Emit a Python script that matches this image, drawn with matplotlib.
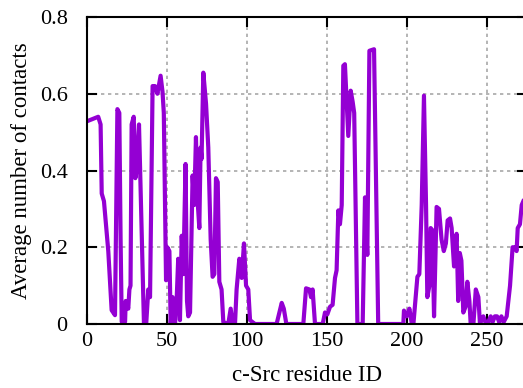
import matplotlib
matplotlib.use("Agg")
import matplotlib.pyplot as plt
from matplotlib.ticker import FuncFormatter

plt.rcParams['font.family'] = ['Liberation Serif', 'DejaVu Serif']

# residue ID and average number of contacts
residue = [1, 7, 8.5, 9.2, 10.6, 13.3, 15.4, 17.5, 19, 20.2,
           21, 21.7, 23.8, 24.2, 25.8, 26.5, 27.2, 27.9, 29.2, 30.2,
           31, 32.5, 33.5, 35.6, 37, 38.3, 39.4, 41, 42.5, 44,
           46, 47.2, 48, 49.4, 50.2, 51.5, 52.3, 53.5, 55, 56,
           57, 58.1, 59.2, 60.2, 61.6, 62.5, 63.3, 64.4, 66, 67,
           68.1, 69, 70.2, 71, 71.6, 72.7, 74.4, 75.8, 77.3, 78.5,
           79.6, 80.6, 81.7, 82.7, 84.1, 85.2, 88.3, 89.8, 91, 92.5,
           93.5, 95.2, 96.7, 98.1, 99.4, 100.8, 101.9, 105, 118.5, 121.7,
           123, 124.6, 135.2, 136.9, 139, 140, 141, 142.5, 147.3, 148.75,
           150.2, 151.9, 153.5, 155, 156, 157.1, 158.1, 159.2, 160.2, 161.2,
           163.3, 164.8, 166, 167, 169, 172.3, 173.75, 175.2, 176.5, 179.4,
           182, 197.7, 198.1, 199.8, 201.5, 203, 204, 206.5, 207.7, 209.2,
           210.6, 211.9, 212.7, 214, 214.8, 215.8, 216.9, 218.5, 220, 221.6,
           223, 224.3, 225.4, 226.9, 227.9, 229.4, 231, 232, 233, 234,
           235.2, 236.6, 237.7, 239, 239.8, 241.5, 243, 244.6, 245.6, 247.7,
           249.4, 250.8, 252.3, 253.5, 254.9, 256.3, 257.6, 259, 260.4, 262.3,
           264.4, 266, 267.5, 268.5, 269.2, 270.6, 271.7, 272.7]
contacts = [0.53, 0.54, 0.52, 0.34, 0.32, 0.19, 0.036, 0.023, 0.56, 0.55,
            0.22, 0.006, 0.006, 0.06, 0.04, 0.09, 0.10, 0.52, 0.54, 0.38,
            0.40, 0.52, 0.35, 0.0, 0.0, 0.09, 0.07, 0.62, 0.62, 0.60,
            0.647, 0.605, 0.55, 0.114, 0.20, 0.19, 0.0, 0.07, 0.0, 0.06,
            0.17, 0.01, 0.23, 0.13, 0.417, 0.06, 0.02, 0.03, 0.387, 0.31,
            0.487, 0.33, 0.25, 0.46, 0.43, 0.655, 0.574, 0.46, 0.22, 0.123,
            0.13, 0.38, 0.37, 0.11, 0.09, 0.005, 0.0, 0.04, 0.0, 0.0,
            0.09, 0.17, 0.12, 0.21, 0.10, 0.09, 0.01, 0.0, 0.0, 0.055,
            0.04, 0.0, 0.0, 0.093, 0.09, 0.07, 0.09, 0.0, 0.0, 0.03,
            0.025, 0.045, 0.05, 0.12, 0.14, 0.296, 0.26, 0.31, 0.673, 0.677,
            0.49, 0.608, 0.58, 0.55, 0.0, 0.0, 0.33, 0.18, 0.712, 0.716,
            0.0, 0.0, 0.035, 0.02, 0.04, 0.0, 0.0, 0.123, 0.13, 0.31,
            0.595, 0.31, 0.07, 0.10, 0.25, 0.245, 0.02, 0.305, 0.30, 0.22,
            0.19, 0.21, 0.27, 0.275, 0.25, 0.15, 0.235, 0.06, 0.185, 0.165,
            0.03, 0.045, 0.11, 0.06, 0.0, 0.0, 0.09, 0.07, 0.0, 0.02,
            0.0, 0.005, 0.02, 0.005, 0.02, 0.02, 0.005, 0.02, 0.005, 0.02,
            0.10, 0.20, 0.20, 0.19, 0.25, 0.26, 0.31, 0.32]

xticks = [0, 50, 100, 150, 200, 250]
yticks = [0, 0.2, 0.4, 0.6, 0.8]

fig = plt.figure(figsize=(5.23, 3.88), dpi=100)
ax = fig.add_axes([87 / 523, 64 / 388, 440 / 523, 307 / 388])

ax.plot(residue, contacts, color='#9400d3', lw=3.0)

ax.set_xlim(0, 275)
ax.set_ylim(0, 0.8)
ax.set_xticks(xticks)
ax.set_yticks(yticks)
ax.yaxis.set_major_formatter(FuncFormatter(lambda v, p: '%g' % v))
ax.grid(True, color='#a8a8a8', lw=1.2, linestyle=(0, (2.0, 2.2)))

ax.tick_params(direction='in', length=7, width=1.5, top=True, right=True,
               labelsize=16)
ax.tick_params(axis='x', pad=6)
ax.tick_params(axis='y', pad=14)
for s in ax.spines.values():
    s.set_linewidth(1.5)

ax.set_xlabel('c-Src residue ID', fontsize=16.5)
ax.set_ylabel('Average number of contacts', fontsize=16.5)
ax.xaxis.set_label_coords(0.5, -0.135)
ax.yaxis.set_label_coords(-0.125, 0.5)

fig.savefig('out.png', dpi=100)
